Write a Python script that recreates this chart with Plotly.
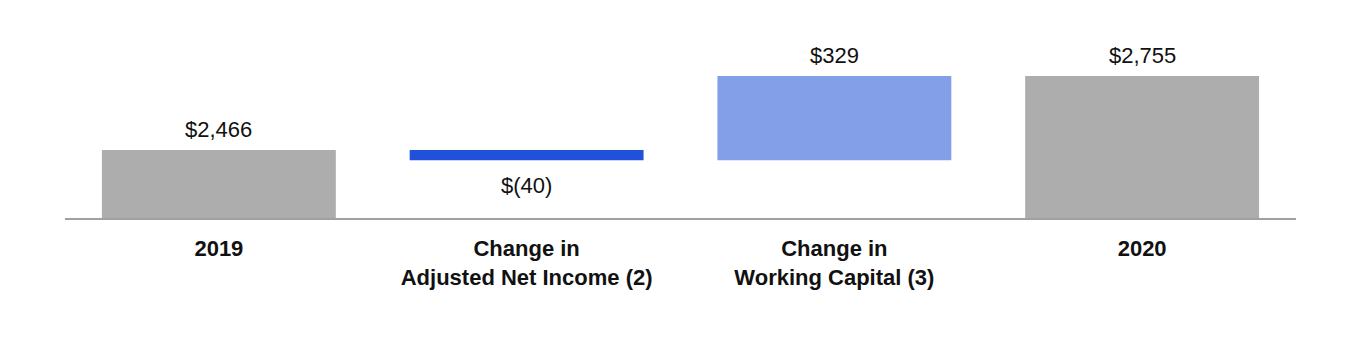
import plotly.graph_objects as go

categories = ["2019", "Change in<br>Adjusted Net Income (2)", "Change in<br>Working Capital (3)", "2020"]
values = [2466, -40, 329, 2755]
measures = ["absolute", "relative", "relative", "total"]
value_labels = ["$2,466", "$(40)", "$329", "$2,755"]

colors = {"total": "#ADADAD", "down": "#2150DA", "up": "#839FE8"}

bases, heights, bar_colors = [], [], []
running = 0
for v, m in zip(values, measures):
    if m in ("absolute", "total"):
        bases.append(0)
        heights.append(v)
        bar_colors.append(colors["total"])
        running = v
    else:
        bases.append(running)
        heights.append(v)
        bar_colors.append(colors["up"] if v >= 0 else colors["down"])
        running += v

positions = list(range(len(categories)))
FONT = "Liberation Sans, Arial, sans-serif"

fig = go.Figure(go.Bar(
    x=positions, y=heights, base=bases, width=0.76,
    marker=dict(color=bar_colors, line=dict(width=0)),
    hoverinfo="skip",
))

for pos, b, h, lab in zip(positions, bases, heights, value_labels):
    end = b + h
    fig.add_annotation(
        x=pos, y=end, text=lab, showarrow=False,
        yanchor="middle", xanchor="center",
        yshift=20 if h >= 0 else -25,
        font=dict(family=FONT, size=22, color="#111111"),
    )

fig.update_layout(
    width=1360, height=350,
    margin=dict(l=65, r=64, t=60, b=132),
    paper_bgcolor="white", plot_bgcolor="white",
    showlegend=False,
    font=dict(family=FONT, color="#111111"),
)
fig.update_xaxes(
    range=[-0.5, len(categories) - 0.5],
    tickmode="array", tickvals=positions, ticktext=categories,
    showline=True, linecolor="#A0A0A0", linewidth=2,
    showgrid=False, zeroline=False, ticks="",
    tickfont=dict(family=FONT, size=22, color="#111111", weight="bold"),
    ticklabelstandoff=10,
)
fig.update_yaxes(range=[2200, 2817], visible=False, showgrid=False, zeroline=False)

fig.write_html("out.html")
